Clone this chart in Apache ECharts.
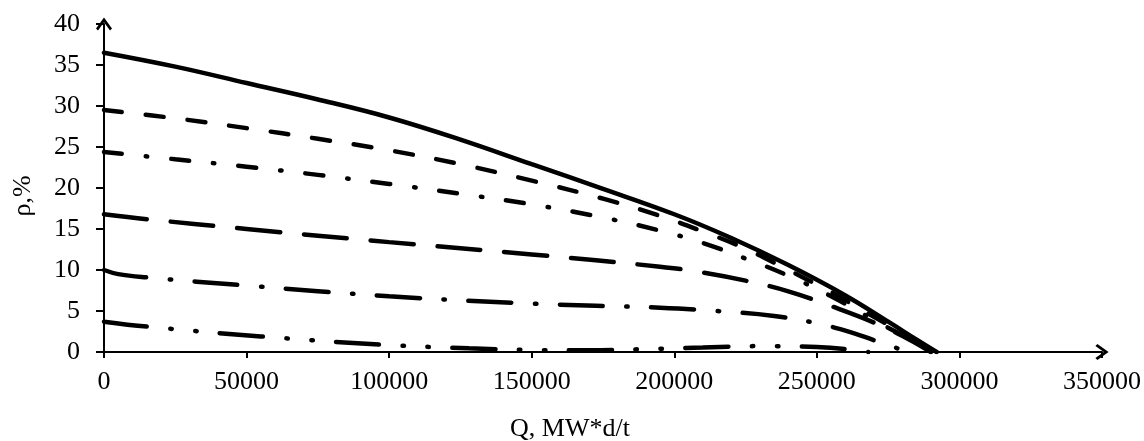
<!DOCTYPE html>
<html>
<head>
<meta charset="utf-8">
<script src="https://cdn.jsdelivr.net/npm/echarts@6/dist/echarts.min.js"></script>
<style>
  html, body { margin: 0; padding: 0; background: #fff; }
  #chart { width: 1144px; height: 441px; }
</style>
</head>
<body>
<div id="chart"></div>
<script>
// burnup Q (MW*d/t) and reactivity rho (%) for each curve
const qSolid = [0, 25000, 50000, 75000, 100000, 125000, 150000, 175000, 200000, 220000, 240000, 260000, 275000, 285000, 292000];
const rhoSolid = [36.5, 34.8, 32.8, 30.8, 28.6, 25.9, 22.9, 19.9, 16.8, 13.9, 10.6, 6.9, 3.7, 1.5, 0];

const qDash = [0, 25000, 50000, 75000, 100000, 125000, 150000, 175000, 195000, 210000, 225000, 240000, 255000, 270000, 282000, 292000];
const rhoDash = [29.5, 28.5, 27.3, 26.0, 24.6, 22.9, 20.9, 18.7, 16.6, 14.7, 12.6, 10.0, 7.3, 4.3, 2.0, 0];

const qDashDot = [0, 25000, 50000, 75000, 100000, 125000, 150000, 175000, 195000, 210000, 225000, 240000, 255000, 270000, 282000, 292000];
const rhoDashDot = [24.4, 23.5, 22.6, 21.6, 20.5, 19.3, 18.0, 16.4, 14.8, 13.3, 11.4, 9.3, 6.8, 3.9, 1.7, 0];

const qLongDash = [0, 15000, 50000, 100000, 150000, 195000, 210000, 225000, 240000, 255000, 270000, 282000, 290000];
const rhoLongDash = [16.8, 16.2, 15.0, 13.4, 11.9, 10.4, 9.7, 8.7, 7.4, 5.6, 3.6, 1.6, 0];

const qLongDashDot = [0, 5000, 15000, 50000, 100000, 150000, 195000, 215000, 235000, 250000, 262000, 272000, 282000];
const rhoLongDashDot = [10.0, 9.5, 9.1, 8.1, 6.8, 5.9, 5.4, 5.0, 4.4, 3.5, 2.4, 1.2, 0];

const qLongDashDotDot = [0, 15000, 55000, 97000, 128000, 150000, 170000, 190000, 210000, 230000, 250000, 262000, 268000];
const rhoLongDashDotDot = [3.7, 3.1, 1.9, 0.9, 0.45, 0.25, 0.2, 0.35, 0.55, 0.72, 0.6, 0.3, 0];

const pairs = (qs, rs) => qs.map((q, i) => [q, rs[i]]);

// open chevron head for the axis ends (points up, echarts rotates it)
const arrowHead = "path://M10 0 L20 14 L17.5 16.5 L10 6 L2.5 16.5 L0 14 Z";

const font = "'Liberation Serif', 'Times New Roman', serif";

const line = (name, data, type) => ({
  name: name,
  type: "line",
  data: data,
  smooth: 0.4,
  symbol: "none",
  lineStyle: { color: "#000", width: 4.5, type: type, cap: "round" }
});

const chart = echarts.init(document.getElementById("chart"));

chart.setOption({
  animation: false,
  backgroundColor: "#fff",
  grid: { left: 104, right: 42, top: 24, bottom: 89, outerBoundsMode: "none", containLabel: false },
  xAxis: {
    type: "value",
    min: 0,
    max: 350000,
    interval: 50000,
    name: "Q, MW*d/t",
    nameLocation: "middle",
    nameGap: 64,
    nameTextStyle: { fontFamily: font, fontSize: 26, color: "#000", padding: [0, 66, 0, 0] },
    axisLine: {
      show: true,
      symbol: ["none", arrowHead],
      symbolSize: [16, 14],
      lineStyle: { color: "#000", width: 2 }
    },
    axisTick: { show: true, length: 6, lineStyle: { color: "#000", width: 2 } },
    axisLabel: { fontFamily: font, fontSize: 26, color: "#000", margin: 17, formatter: v => String(v) },
    splitLine: { show: false }
  },
  yAxis: {
    type: "value",
    min: 0,
    max: 40,
    interval: 5,
    name: "ρ,%",
    nameLocation: "middle",
    nameGap: 68,
    nameRotate: 90,
    nameTextStyle: { fontFamily: font, fontSize: 26, color: "#000", padding: [0, 16, 0, 0] },
    axisLine: {
      show: true,
      symbol: ["none", arrowHead],
      symbolSize: [16, 14],
      lineStyle: { color: "#000", width: 2 }
    },
    axisTick: { show: true, length: 8, lineStyle: { color: "#000", width: 2 } },
    axisLabel: { fontFamily: font, fontSize: 26, color: "#000", margin: 24, formatter: v => String(v) },
    splitLine: { show: false }
  },
  series: [
    line("solid", pairs(qSolid, rhoSolid), "solid"),
    line("dash", pairs(qDash, rhoDash), [18, 24]),
    line("dashDot", pairs(qDashDot, rhoDashDot), [18, 24, 1.5, 24]),
    line("longDash", pairs(qLongDash, rhoLongDash), [43, 24]),
    line("longDashDot", pairs(qLongDashDot, rhoLongDashDot), [43, 23.5, 1.5, 23.5]),
    line("longDashDotDot", pairs(qLongDashDotDot, rhoLongDashDotDot), [43, 23.5, 1.5, 23.5, 1.5, 23.5])
  ]
});
</script>
</body>
</html>
